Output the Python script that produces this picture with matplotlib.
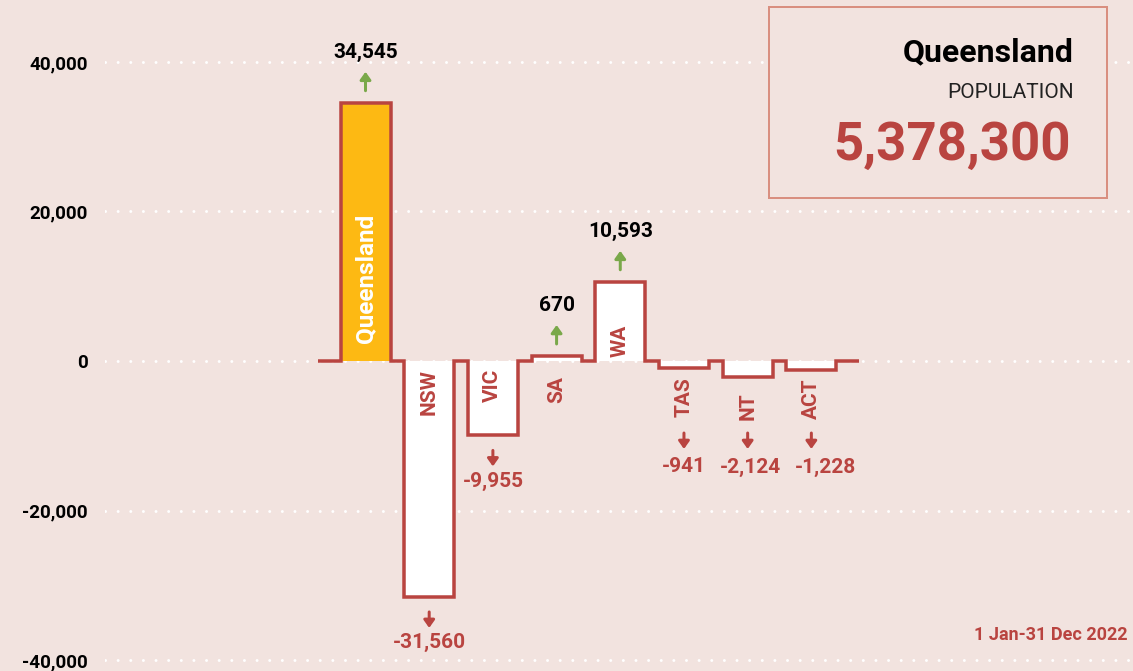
"""Interstate migration for Queensland, 2022, as a step-outline bar chart."""

import matplotlib
matplotlib.use("Agg")
import matplotlib.pyplot as plt
from matplotlib.patches import Rectangle
from matplotlib.ticker import FuncFormatter
from matplotlib.transforms import offset_copy

states = ["Queensland", "NSW", "VIC", "SA", "WA", "TAS", "NT", "ACT"]
net_migration = [34545, -31560, -9955, 670, 10593, -941, -2124, -1228]
highlight = "Queensland"
population_label = "5,378,300"
period_label = "1 Jan-31 Dec 2022"
y_ticks = [-40000, -20000, 0, 20000, 40000]

BG = "#f2e3df"
RED = "#b94440"
YELLOW = "#fdb913"
GREEN = "#7aa84a"
BOX_EDGE = "#d98f80"

plt.rcParams["font.family"] = ["Roboto", "DejaVu Sans"]

PX = 0.72  # points per pixel at dpi 100


def fmt(v):
    return f"{v:,}"


def draw_arrow(ax, fig, x, y, start_px, end_px, color):
    """Arrow from start_px to end_px (pixel offsets from the data point)."""
    t0 = offset_copy(ax.transData, fig=fig, x=0, y=start_px * PX, units="points")
    t1 = offset_copy(ax.transData, fig=fig, x=0, y=end_px * PX, units="points")
    ax.annotate("", xy=(x, y), xycoords=t1, xytext=(x, y), textcoords=t0,
                arrowprops=dict(arrowstyle="-|>,head_length=0.45,head_width=0.32",
                                mutation_scale=10, lw=3 * PX, color=color,
                                shrinkA=0, shrinkB=0),
                zorder=4)


def main():
    fig = plt.figure(figsize=(11.33, 6.71), dpi=100, facecolor=BG)
    ax = fig.add_axes([105 / 1133, 0, 1028 / 1133, 1])
    ax.set_facecolor(BG)

    width = 0.785
    lead = 0.36
    ax.set_xlim(-4.09, 12.05)
    ax.set_ylim(-41470, 48290)

    # dotted white grid lines
    for t in y_ticks:
        ax.axhline(t, color="white", lw=3 * PX, dashes=(0.01, 4.2),
                   dash_capstyle="round", zorder=1)

    # bar fills
    colors = [YELLOW if s == highlight else "white" for s in states]
    xs = list(range(len(states)))
    ax.bar(xs, net_migration, width=width, color=colors, zorder=2, linewidth=0)

    # step outline
    line_x = [xs[0] - width / 2 - lead]
    line_y = [0]
    for i, v in zip(xs, net_migration):
        line_x += [i - width / 2, i - width / 2, i + width / 2, i + width / 2]
        line_y += [0, v, v, 0]
    line_x.append(xs[-1] + width / 2 + lead)
    line_y.append(0)
    ax.plot(line_x, line_y, color=RED, lw=3.5 * PX, solid_joinstyle="miter",
            solid_capstyle="butt", zorder=3)

    # labels
    prev_right = None
    for i, (s, v) in enumerate(zip(states, net_migration)):
        big = abs(v) > 5000
        if s == highlight:
            ax.annotate(s, (i, 0), xytext=(0, 18 * PX), textcoords="offset points",
                        rotation=90, ha="center", va="bottom", color="white",
                        fontsize=17.5, fontweight="bold", zorder=4)
        elif big and v > 0:
            ax.annotate(s, (i, 0), xytext=(0, 4 * PX), textcoords="offset points",
                        rotation=90, ha="center", va="bottom", color=RED,
                        fontsize=15, fontweight="semibold", zorder=4)
        elif big:
            ax.annotate(s, (i, 0), xytext=(0, -8 * PX), textcoords="offset points",
                        rotation=90, ha="center", va="top", color=RED,
                        fontsize=15, fontweight="semibold", zorder=4)
        else:
            ax.annotate(s, (i, min(v, 0)), xytext=(0, -29 * PX), textcoords="offset points",
                        rotation=90, ha="center", va="center", color=RED,
                        fontsize=15, fontweight="semibold", zorder=4)

        if v > 0:
            draw_arrow(ax, fig, i, v, 12, 31, GREEN)
            ax.annotate(fmt(v), (i, v), xytext=(0, 50 * PX), textcoords="offset points",
                        ha="center", va="center", color="black", fontsize=15,
                        fontweight="bold", zorder=4)
        else:
            anchor = v if big else 0
            if big:
                draw_arrow(ax, fig, i, anchor, -15, -31, RED)
                d_text = -46
            else:
                draw_arrow(ax, fig, i, anchor, -72, -88, RED)
                d_text = -106
            lab = ax.annotate(fmt(v), (i, anchor), xytext=(0, d_text * PX),
                              textcoords="offset points", ha="center", va="center",
                              color=RED, fontsize=15, fontweight="semibold", zorder=4)
            # nudge right if it would touch the previous label
            fig.canvas.draw()
            bb = lab.get_window_extent()
            if prev_right is not None and not big and bb.x0 < prev_right + 14:
                shift = prev_right + 14 - bb.x0
                lab.xyann = (shift * PX, d_text * PX)
                bb = lab.get_window_extent()
            prev_right = bb.x1 if not big else None

    # axes styling
    for sp in ax.spines.values():
        sp.set_visible(False)
    ax.set_xticks([])
    ax.set_yticks(y_ticks)
    ax.yaxis.set_major_formatter(FuncFormatter(lambda v, _: fmt(int(v))))
    ax.tick_params(axis="y", length=0, pad=17 * PX, labelsize=13.5)
    for lab in ax.get_yticklabels():
        lab.set_fontweight("bold")

    # info box
    box = Rectangle((769 / 1133, 1 - 198 / 671), (1107 - 769) / 1133, (198 - 7) / 671,
                    transform=fig.transFigure, facecolor=BG, edgecolor=BOX_EDGE,
                    lw=2 * PX, zorder=5)
    fig.add_artist(box)
    fig.text(1074 / 1133, 1 - 52 / 671, highlight, ha="right", va="center",
             fontsize=23, fontweight="bold", color="black", zorder=6)
    fig.text(1074 / 1133, 1 - 92 / 671, "POPULATION", ha="right", va="center",
             fontsize=15, color="#222222", zorder=6)
    fig.text(1071 / 1133, 1 - 145 / 671, population_label, ha="right", va="center",
             fontsize=38, fontweight="bold", color=RED, zorder=6)

    fig.text(1128 / 1133, 1 - 635 / 671, period_label, ha="right", va="center",
             fontsize=13, fontweight="semibold", color=RED)

    fig.savefig("out.png", dpi=100, facecolor=BG)


if __name__ == "__main__":
    main()
